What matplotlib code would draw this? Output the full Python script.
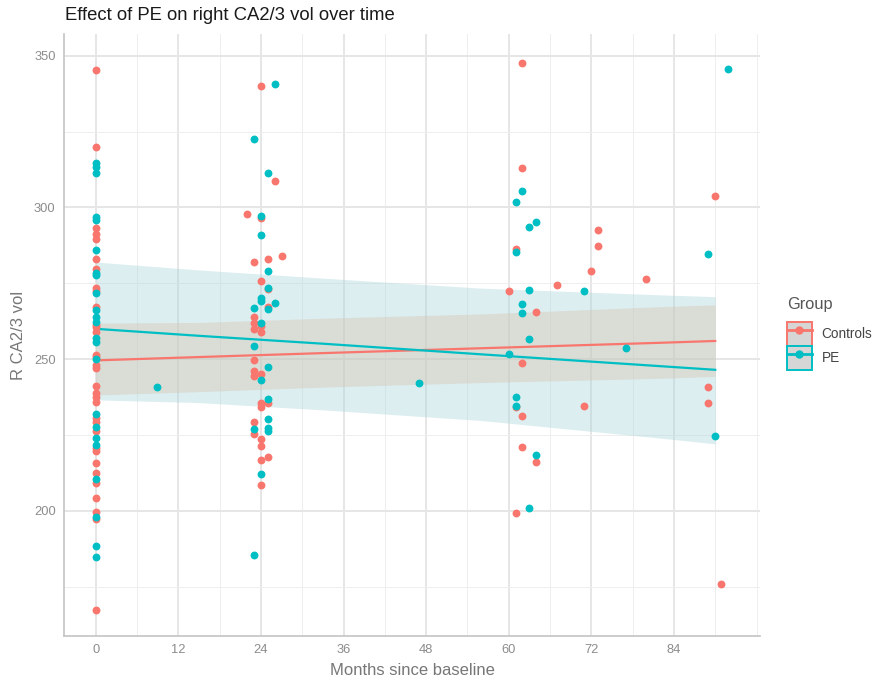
import matplotlib
matplotlib.use("Agg")
import matplotlib.pyplot as plt
from matplotlib.patches import Rectangle
from matplotlib.lines import Line2D

plt.rcParams['font.family'] = ['Liberation Sans', 'DejaVu Sans']

RED = '#F8766D'
TEAL = '#00BFC4'

# Controls: months since baseline / right CA2/3 volume
ctrl_month = ([0] * 33 + [22] + [23] * 9 + [24] * 12 + [25] * 5 + [26, 27, 60]
              + [61] * 3 + [62] * 5 + [64] * 2 + [67, 71, 72, 73, 73, 80, 89, 89, 90, 90.9])
ctrl_vol = [345.2, 319.8, 293.1, 291.3, 289.5, 282.9, 279.7, 273.4, 272.6, 267.3,
            261.3, 260.5, 258.8, 251.4, 250.7, 248.1, 247.0, 241.0, 238.8, 237.7,
            236.0, 230.6, 229.4, 226.2, 220.7, 219.6, 215.9, 212.5, 209.2, 204.2,
            199.8, 197.3, 167.4,
            297.8,
            282.0, 264.0, 261.9, 260.1, 249.7, 246.0, 244.3, 229.3, 225.3,
            340.0, 296.6, 275.6, 261.0, 259.0, 245.1, 235.7, 234.4, 223.8, 221.4, 216.8, 208.6,
            283.1, 273.2, 267.1, 235.5, 217.7,
            308.6, 283.9, 272.4,
            286.3, 234.1, 199.3,
            347.7, 313.1, 248.9, 231.3, 221.1,
            265.6, 216.1,
            274.6, 234.6, 278.9, 292.5, 287.2, 276.5, 240.8, 235.5, 303.7, 175.8]

# PE group
pe_month = ([0] * 23 + [8.9] + [23] * 5 + [24] * 7 + [25] * 9 + [26] * 2 + [47, 60]
            + [61] * 4 + [62] * 3 + [63] * 4 + [64] * 2 + [71, 77, 89, 90, 91.9])
pe_vol = [314.6, 313.4, 311.5, 297.0, 295.9, 286.0, 278.3, 277.8, 271.7, 266.2,
          264.0, 262.4, 256.9, 255.6, 250.0, 231.9, 227.8, 224.0, 221.8, 210.5,
          198.0, 188.3, 184.8,
          240.9,
          322.7, 266.7, 254.2, 226.9, 185.5,
          297.3, 290.8, 270.1, 269.2, 261.9, 243.2, 212.1,
          311.3, 278.9, 273.4, 266.5, 247.4, 236.8, 230.4, 227.3, 226.4,
          340.8, 268.6,
          242.1, 251.7,
          301.9, 285.3, 237.5, 234.7,
          305.4, 268.2, 265.2,
          293.5, 272.7, 256.6, 201.1,
          295.2, 218.3,
          272.3, 253.6, 284.7, 224.7, 345.5]

# model fit and confidence band
fit_month = [0, 15, 33, 56, 82, 90]
ctrl_fit = [249.6, 250.7, 252.0, 253.6, 255.4, 256.0]
ctrl_lo = [238.2, 239.3, 240.8, 242.3, 243.7, 244.3]
ctrl_hi = [261.9, 262.1, 263.5, 264.9, 267.3, 267.9]
pe_fit = [260.0, 257.7, 255.1, 251.6, 247.7, 246.5]
pe_lo = [236.6, 235.7, 233.3, 229.8, 224.0, 222.1]
pe_hi = [282.0, 279.4, 276.7, 273.4, 271.2, 270.6]

x_ticks = [0, 12, 24, 36, 48, 60, 72, 84]
x_minor = [6, 18, 30, 42, 54, 66, 78, 90, 96]
y_ticks = [200, 250, 300, 350]
y_minor = [175, 225, 275, 325]

fig = plt.figure(figsize=(8.74, 6.8), dpi=100)
ax = fig.add_axes([64 / 874, 1 - 636 / 680, 696 / 874, 601.6 / 680])

ax.fill_between(fit_month, pe_lo, pe_hi, color='#A9D5DA', alpha=0.4, lw=0, zorder=2)
ax.fill_between(fit_month, ctrl_lo, ctrl_hi, color='#D8C2AF', alpha=0.4, lw=0, zorder=2)
ax.plot(fit_month, ctrl_fit, color=RED, lw=1.6, zorder=3)
ax.plot(fit_month, pe_fit, color=TEAL, lw=1.6, zorder=3)

ax.scatter(ctrl_month, ctrl_vol, s=32, color=RED, lw=0, zorder=4)
ax.scatter(pe_month, pe_vol, s=32, color=TEAL, lw=0, zorder=4)

ax.set_xlim(-4.6, 96.5)
ax.set_ylim(158.8, 357.0)
ax.set_xticks(x_ticks)
ax.set_xticks(x_minor, minor=True)
ax.set_yticks(y_ticks)
ax.set_yticks(y_minor, minor=True)
ax.grid(which='major', color='#E6E6E6', lw=1.4, zorder=0)
ax.grid(which='minor', color='#EEEEEE', lw=0.7, zorder=0)
ax.set_axisbelow(True)
ax.tick_params(which='both', length=0, labelsize=9.3, labelcolor='#8C8C8C', pad=6)

for side in ['top', 'right']:
    ax.spines[side].set_visible(False)
for side in ['left', 'bottom']:
    ax.spines[side].set_color('#C4C4C4')
    ax.spines[side].set_linewidth(1.2)

ax.set_xlabel('Months since baseline', fontsize=12, color='#777777', labelpad=5)
ax.set_ylabel('R CA2/3 vol', fontsize=12, color='#777777', labelpad=6)
fig.text(65 / 874, 1 - 16 / 680, 'Effect of PE on right CA2/3 vol over time',
         fontsize=13.3, color='#1A1A1A', ha='left', va='center')

# legend: title placed separately so the key boxes sit where they do in the original
fig.text(787 / 874, 1 - 305 / 680, 'Group', fontsize=11.8, color='#555555',
         ha='left', va='center')
key_fill = '#D6D6D6'
h_ctrl = (Rectangle((0, 0), 1, 1, facecolor=key_fill, edgecolor=RED, lw=1.4),
          Line2D([], [], color=RED, lw=2, marker='o', ms=5))
h_pe = (Rectangle((0, 0), 1, 1, facecolor=key_fill, edgecolor=TEAL, lw=1.4),
        Line2D([], [], color=TEAL, lw=2, marker='o', ms=5))
leg = fig.legend([h_ctrl, h_pe], ['Controls', 'PE'],
                 loc='upper left', bbox_to_anchor=(787 / 874, 1 - 322 / 680),
                 frameon=False, fontsize=9.8,
                 handlelength=1.8, handleheight=2.3, labelspacing=0.05,
                 handletextpad=0.75, borderpad=0, borderaxespad=0)
for t in leg.get_texts():
    t.set_color('#444444')

fig.savefig('out.png', dpi=100)
